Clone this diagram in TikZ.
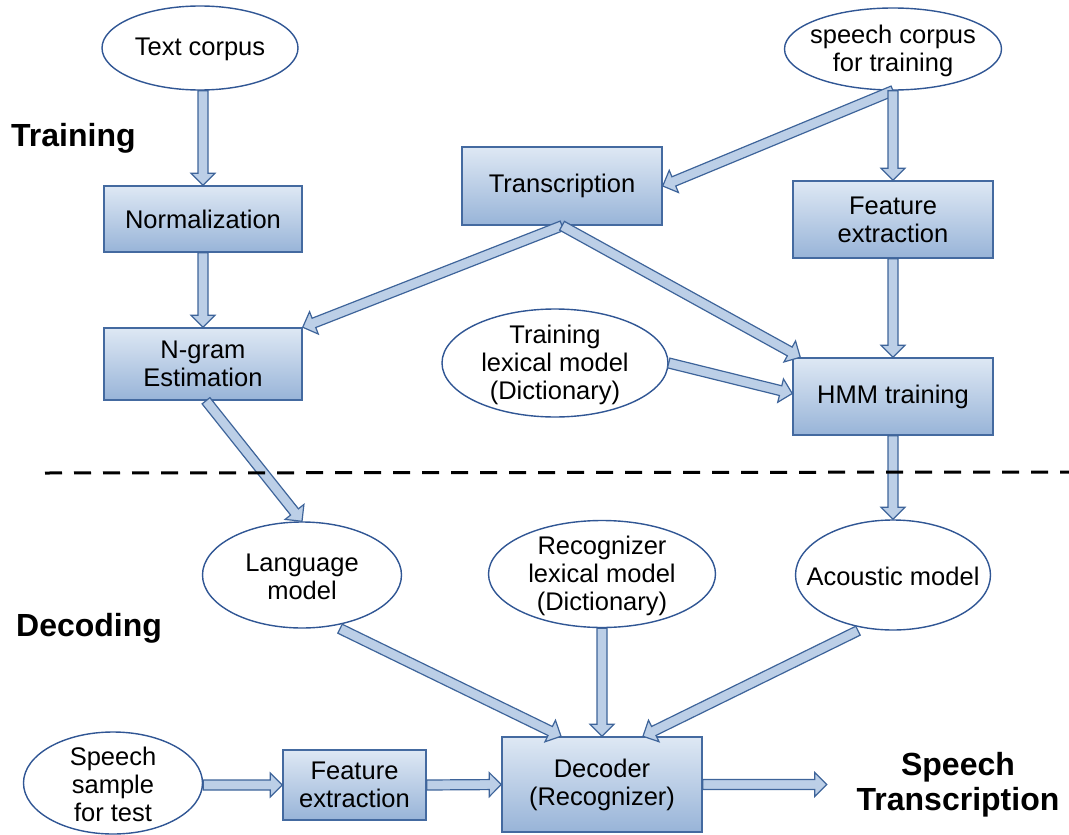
\documentclass[tikz,border=0pt]{standalone}
\usepackage{fontspec}
\setmainfont{Liberation Sans}
\usetikzlibrary{calc,shapes.geometric}

\definecolor{boxtop}{RGB}{222,232,244}
\definecolor{boxbot}{RGB}{152,180,216}
\definecolor{boxline}{RGB}{68,106,160}
\definecolor{ellline}{RGB}{48,86,148}
\definecolor{arrfill}{RGB}{188,207,231}
\definecolor{arrline}{RGB}{62,100,154}

% hollow block arrow from #1 to #2 (shaft half width 5pt, head half width 12pt, head length 12pt)
\newcommand\blockarrow[2]{%
  \coordinate (bah) at ($(#2)!12pt!(#1)$);
  \filldraw[blockarr]
    ($(#1)!5pt!90:(#2)$) -- ($(bah)!5pt!90:(#2)$) -- ($(bah)!12pt!90:(#2)$) -- (#2)
    -- ($(bah)!12pt!-90:(#2)$) -- ($(bah)!5pt!-90:(#2)$) -- ($(#1)!5pt!-90:(#2)$) -- cycle;}

\begin{document}
\begin{tikzpicture}[x=1pt,y=-1pt,
  font=\fontsize{25.5}{28}\selectfont,
  procbox/.style={rectangle, draw=boxline, line width=1.5pt, top color=boxtop,
    bottom color=boxbot, align=center, inner sep=0pt},
  datanode/.style={ellipse, draw=ellline, line width=1.4pt, fill=white, inner sep=0pt},
  elltext/.style={align=center, inner sep=0pt, yshift=-1.5pt},
  blockarr/.style={fill=arrfill, draw=arrline, line width=1.2pt, line join=miter},
  sectionlbl/.style={font=\fontsize{32}{35}\selectfont\bfseries, inner sep=0pt, align=center},
  sepline/.style={black, line width=3pt, dash pattern=on 17pt off 12pt}]

\useasboundingbox (0,0) rectangle (1069,835);

% ---- training part ----
\node[datanode, minimum width=196pt, minimum height=84pt,
  label={[elltext]center:Text corpus}] (tc) at (200,48) {};
\node[datanode, minimum width=217pt, minimum height=82pt,
  label={[elltext]center:{speech corpus\\for training}}] (sc) at (893,49) {};
\node[procbox, minimum width=198pt, minimum height=66pt] (norm) at (203,219) {Normalization};
\node[procbox, minimum width=200pt, minimum height=78pt] (trans) at (562,186) {Transcription};
\node[procbox, minimum width=200pt, minimum height=77pt] (fe1) at (893,219.5) {Feature\\extraction};
\node[procbox, minimum width=198pt, minimum height=72pt] (ngram) at (203,364) {N-gram\\Estimation};
\node[datanode, minimum width=226pt, minimum height=108pt,
  label={[elltext]center:{Training\\lexical model\\(Dictionary)}}] (tlex) at (555,363) {};
\node[procbox, minimum width=200pt, minimum height=77pt] (hmm) at (893,396.5) {HMM training};

% ---- decoding part ----
\node[datanode, minimum width=199pt, minimum height=106pt,
  label={[elltext]center:{Language\\model}}] (lm) at (302,575) {};
\node[datanode, minimum width=227pt, minimum height=107pt,
  label={[elltext]center:{Recognizer\\lexical model\\(Dictionary)}}] (rlex) at (602,574) {};
\node[datanode, minimum width=195pt, minimum height=110pt,
  label={[elltext]center:Acoustic model}] (am) at (893,575) {};
\node[datanode, minimum width=179pt, minimum height=102pt,
  label={[elltext]center:{Speech\\sample\\for test}}] (ss) at (113,783) {};
\node[procbox, minimum width=143pt, minimum height=70pt] (fe2) at (354.5,785) {Feature\\extraction};
\node[procbox, minimum width=200pt, minimum height=95pt] (dec) at (602,784.5) {Decoder\\(Recognizer)};

% ---- section labels ----
\node[sectionlbl, anchor=west] (trainlbl) at (11,138) {Training};
\node[sectionlbl, anchor=west] (declbl) at (16,628) {Decoding};
\node[sectionlbl] (outlbl) at (958,785) {Speech\\Transcription};

% ---- connector end points ----
\coordinate (tcout) at (norm.north |- tc.south);
\coordinate (ngout) at ($(ngram.south)+(3,0)$);
\coordinate (hmmin) at ($(hmm.north west)+(8,0)$);
\coordinate (hmmleft) at ($(hmm.west)+(0,-3)$);
\coordinate (lmout) at ($(lm.south)+(38,0)$);
\coordinate (amout) at ($(am.south)+(-35,0)$);
\coordinate (decinl) at ($(dec.north)+(-41,0)$);
\coordinate (decinr) at ($(dec.north)+(41,0)$);
\coordinate (ssout) at (ss.east |- fe2.west);
\coordinate (result) at ($(dec.east)+(124,0)$);

% ---- connectors ----
\blockarrow{tcout}{norm.north}
\blockarrow{norm.south}{ngram.north}
\blockarrow{ngout}{lm.north}
\blockarrow{sc.south}{trans.east}
\blockarrow{sc.south}{fe1.north}
\blockarrow{trans.south}{ngram.north east}
\blockarrow{trans.south}{hmmin}
\blockarrow{tlex.east}{hmmleft}
\blockarrow{fe1.south}{hmm.north}
\blockarrow{hmm.south}{am.north}
\blockarrow{lmout}{decinl}
\blockarrow{rlex.south}{dec.north}
\blockarrow{amout}{decinr}
\blockarrow{ssout}{fe2.west}
\blockarrow{fe2.east}{dec.west}
\blockarrow{dec.east}{result}

% ---- boundary between training and decoding ----
\coordinate (sepL) at (45,473);
\coordinate (sepR) at (1069,472);
\draw[sepline] (sepL) -- (sepR);
\end{tikzpicture}
\end{document}
